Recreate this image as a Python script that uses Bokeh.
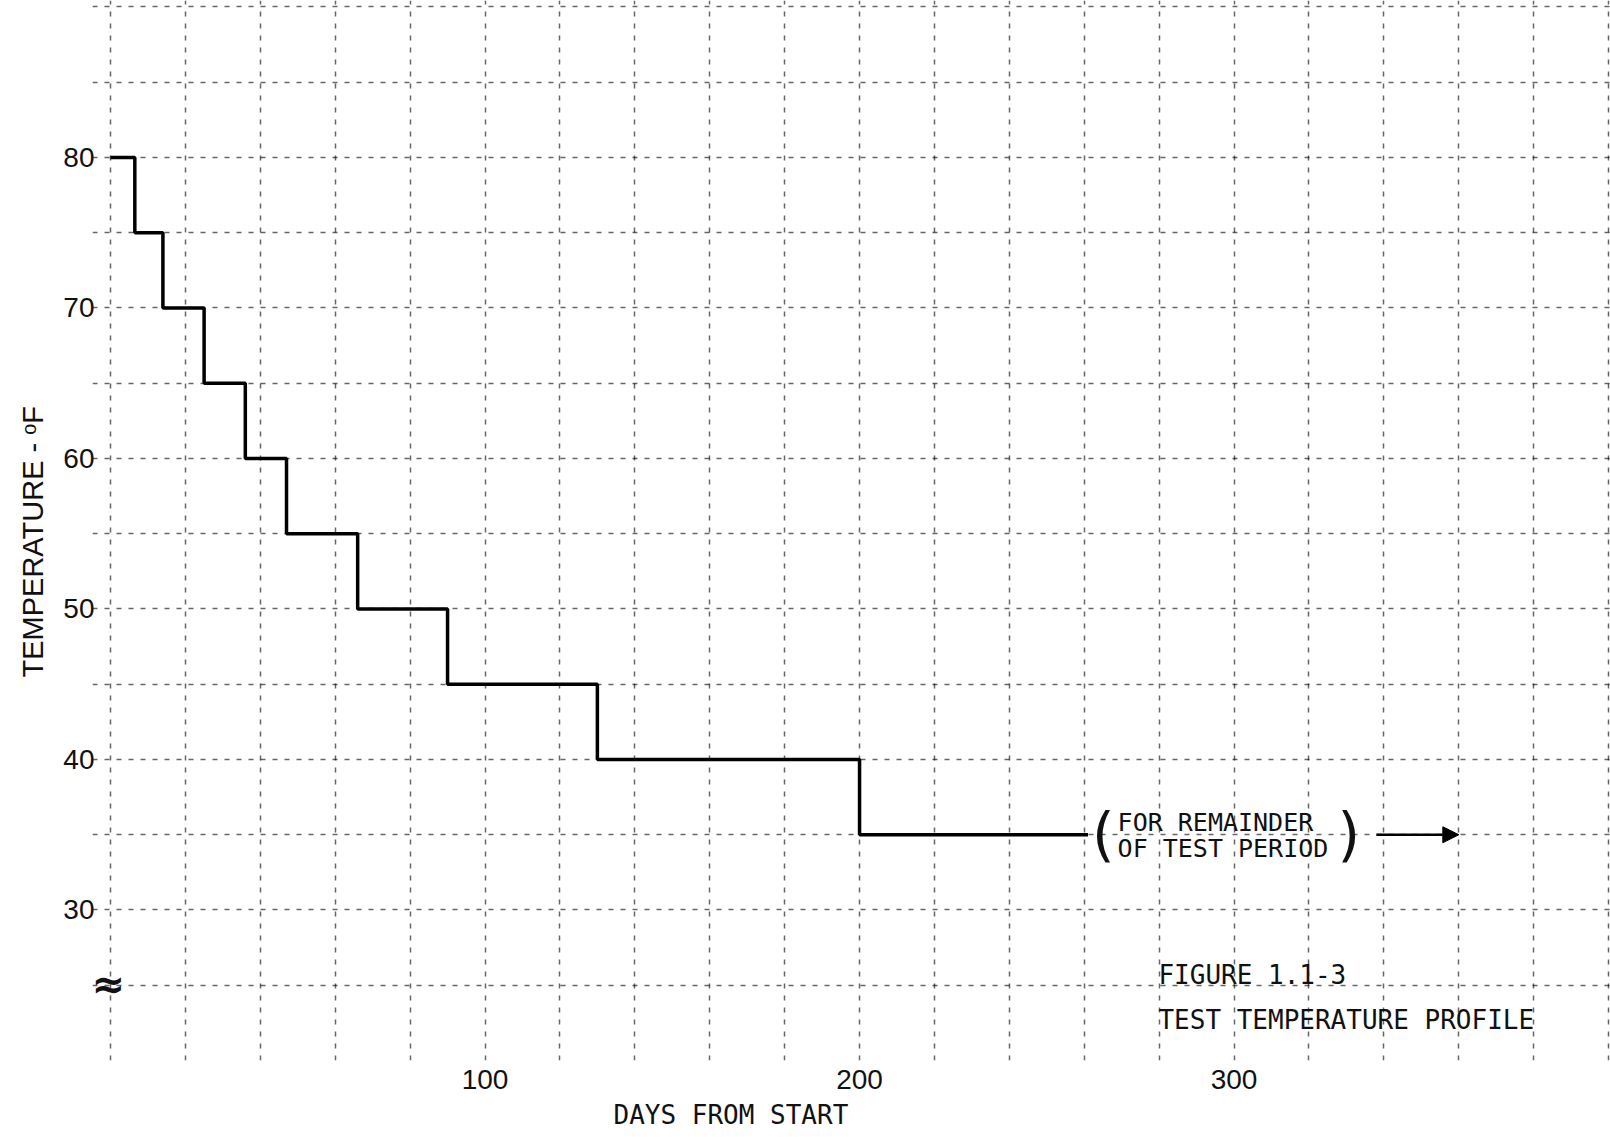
from bokeh.plotting import figure
from bokeh.models import Range1d, FixedTicker, Arrow, NormalHead, Title
from bokeh.embed import file_html
from bokeh.resources import INLINE
from bokeh.core.properties import value

# ---- data ----
step_days = [0, 6.5, 14, 25, 36, 47, 66, 90, 130, 200, 261]
step_temps = [80, 75, 70, 65, 60, 55, 50, 45, 40, 35, 35]
y_ticks = [30, 40, 50, 60, 70, 80]
x_ticks = [100, 200, 300]
grid_days = list(range(0, 401, 20))
grid_temps = list(range(20, 91, 5))
arrow_days = [338, 360]
arrow_temp = 35
note_lines = ["FOR REMAINDER", "OF TEST PERIOD"]
caption_lines = ["FIGURE 1.1-3", "TEST TEMPERATURE PROFILE"]
x_title = "DAYS FROM START"
y_title = "TEMPERATURE - \u1d52F"

p = figure(width=1610, height=1137,
           x_range=Range1d(-4.8, 400.5), y_range=Range1d(20, 90.43),
           output_backend="svg", toolbar_location=None,
           min_border_left=92, min_border_right=0,
           min_border_top=0, min_border_bottom=77)
p.outline_line_color = None
p.background_fill_color = "white"
p.border_fill_color = "white"

# axes
for ax in (p.xaxis, p.yaxis):
    ax.axis_line_color = None
    ax.major_tick_line_color = None
    ax.minor_tick_line_color = None
    ax.major_label_text_font = "Liberation Sans"
    ax.major_label_text_font_size = "28px"
    ax.major_label_text_color = "#111111"
p.xaxis.ticker = FixedTicker(ticks=x_ticks)
p.yaxis.ticker = FixedTicker(ticks=y_ticks)
p.xaxis.major_label_standoff = 3
p.yaxis.major_label_standoff = -8

# grid (scanned graph-paper look)
p.xgrid.ticker = FixedTicker(ticks=grid_days)
p.ygrid.ticker = FixedTicker(ticks=grid_temps)
for g in (p.xgrid, p.ygrid):
    g.grid_line_color = "#000000"
    g.grid_line_alpha = 0.6
    g.grid_line_width = 1.5
    g.grid_line_dash = "5 7"

# step profile
p.step(step_days, step_temps, mode="after", line_color="#000000", line_width=3.5)

# arrow for remainder of test period
p.add_layout(Arrow(end=NormalHead(size=16, fill_color="#000000", line_color="#000000"),
                   x_start=arrow_days[0], y_start=arrow_temp,
                   x_end=arrow_days[1], y_end=arrow_temp,
                   line_color="#000000", line_width=2.5))

mono = "DejaVu Sans Mono"
# note text in parentheses
p.text(x=[268.9, 268.9], y=[35.81, 34.09], text=note_lines,
       text_font=value(mono), text_font_size="25px", text_color="#111111",
       text_baseline="middle", text_align="left")
p.text(x=[265.1, 330.6], y=[35.0, 35.0], text=["(", ")"],
       text_font=value("DejaVu Sans"), text_font_size="58px", text_color="#111111",
       text_baseline="middle", text_align="center")

# caption
p.text(x=[279.8, 279.8], y=[25.65, 22.66], text=caption_lines,
       text_font=value(mono), text_font_size="26px", text_color="#111111",
       text_baseline="middle", text_align="left")

# axis break symbol
p.text(x=[-0.53], y=[25.05], text=["≈"], text_font=value("DejaVu Sans"),
       text_font_size="40px", text_font_style="bold",
       text_align="center", text_baseline="middle", text_color="#111111")

# axis titles
p.add_layout(Title(text=x_title, align="left", offset=521, standoff=12,
                   text_font=mono, text_font_size="26px", text_font_style="normal",
                   text_color="#111111"), "below")
p.add_layout(Title(text=y_title, align="left", offset=383, standoff=24,
                   text_font="Liberation Sans",
                   text_font_size="29px",
                   text_font_style="normal", text_color="#111111"), "left")

open("out.html", "w").write(file_html(p, INLINE))
